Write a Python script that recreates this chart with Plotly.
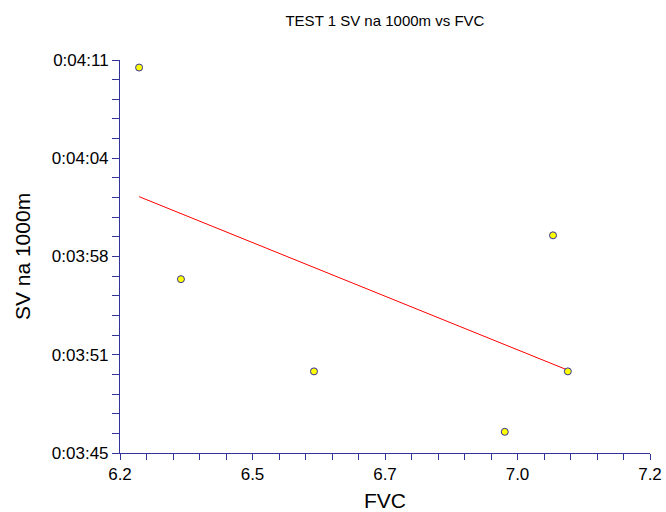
import numpy as np
import plotly.graph_objects as go

fvc = [6.236, 6.315, 6.566, 6.926, 7.017, 7.045]
sv_seconds = [250.5, 236.5, 230.4, 226.4, 239.4, 230.4]

x_tickvals = [6.2, 6.45, 6.7, 6.95, 7.2]
x_ticktext = ["6.2", "6.5", "6.7", "7.0", "7.2"]
y_tickvals = [225, 231.5, 238, 244.5, 251]
y_ticktext = ["0:03:45", "0:03:51", "0:03:58", "0:04:04", "0:04:11"]

navy = "#33339a"

slope, intercept = np.polyfit(fvc, sv_seconds, 1)
fit_x = [min(fvc), max(fvc)]
fit_y = [slope * v + intercept for v in fit_x]

fig = go.Figure()
fig.add_trace(go.Scatter(x=fit_x, y=fit_y, mode="lines",
                         line=dict(color="#ff0000", width=1), showlegend=False))
fig.add_trace(go.Scatter(x=fvc, y=sv_seconds, mode="markers",
                         marker=dict(color="#ffff00", size=7,
                                     line=dict(color=navy, width=1)),
                         showlegend=False, cliponaxis=False))

x_minor = [round(6.2 + 0.05 * i, 3) for i in range(21)]
y_minor = [225 + 1.3 * i for i in range(21)]

fig.update_layout(
    width=666, height=512,
    margin=dict(l=120, r=16, t=60, b=59, autoexpand=False),
    paper_bgcolor="white", plot_bgcolor="white",
    font=dict(family="Liberation Sans, Arial, sans-serif", color="#000000"),
    title=dict(text="TEST 1 SV na 1000m vs FVC", x=0.578, xanchor="center",
               y=0.96, yanchor="middle", font=dict(size=15)),
    xaxis=dict(range=[6.2, 7.2], tickmode="array", tickvals=x_tickvals,
               ticktext=x_ticktext, showgrid=False, zeroline=False,
               showline=True, linecolor=navy, linewidth=1,
               ticks="outside", ticklen=6, tickcolor=navy, tickwidth=1,
               tickfont=dict(size=17), automargin=False,
               minor=dict(tickmode="array", tickvals=x_minor, ticks="outside",
                          ticklen=6, tickcolor=navy, showgrid=False),
               title=dict(text="FVC", font=dict(size=21), standoff=12)),
    yaxis=dict(range=[225, 251], tickmode="array", tickvals=y_tickvals,
               ticktext=y_ticktext, showgrid=False, zeroline=False,
               showline=True, linecolor=navy, linewidth=1,
               ticks="outside", ticklen=7, tickcolor=navy, tickwidth=1,
               tickfont=dict(size=17), automargin=False,
               minor=dict(tickmode="array", tickvals=y_minor, ticks="outside",
                          ticklen=7, tickcolor=navy, showgrid=False),
               title=dict(text="SV na 1000m", font=dict(size=21), standoff=15)),
)

fig.write_html("out.html")
